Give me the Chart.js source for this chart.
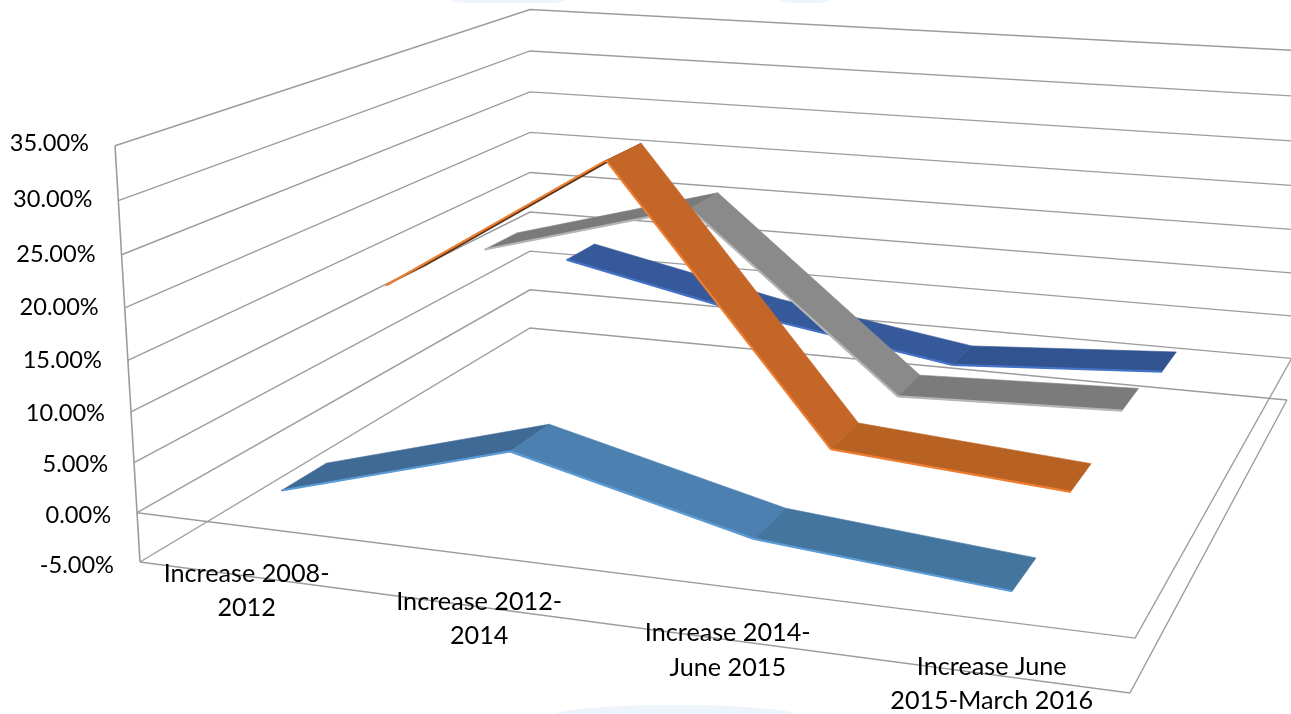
<!DOCTYPE html>
<html><head><meta charset="utf-8">
<style>
html,body{margin:0;padding:0;background:#fff;overflow:hidden}
#wrap{position:relative;width:1291px;height:714px}
canvas{position:absolute;left:0;top:0}
.w{position:absolute;background:#eef4fb}
</style>
<script src="https://cdn.jsdelivr.net/npm/chart.js@4"></script>
</head><body>
<div id="wrap">
<div class="w" style="left:432px;top:-30px;width:154px;height:33px;border-radius:0 0 70px 70px"></div>
<div class="w" style="left:760px;top:-30px;width:90px;height:33px;border-radius:0 0 40px 40px"></div>
<div class="w" style="left:550px;top:705px;width:250px;height:40px;border-radius:120px 120px 0 0/12px 12px 0 0"></div>
<canvas id="c" width="1291" height="714"></canvas>
</div>
<script>
// ---- data ----
const categories = [["Increase 2008-","2012"],["Increase 2012-","2014"],["Increase 2014-","June 2015"],["Increase June","2015-March 2016"]];
const valueTicks = [35,30,25,20,15,10,5,0,-5];
const series1 = [1.4, 7.9, 2.2, 0.2];
const series2 = [16.2, 30.6, 3.9, 2.2];
const series3 = [14.7, 21.0, 2.65, 3.5];
const series4 = [8.4, 3.6, 0.0, 1.5];

// ---- styling ----
const styles = [
  {values:series4, depth:0.875, half:0.047, edge:'#4472c4', seg:['#36599b','#36599b','#31538f']},
  {values:series3, depth:0.625, half:0.047, edge:'#b5b5b5', seg:['#7a7a7a','#8a8a8a','#7b7b7b']},
  {values:series2, depth:0.370, half:0.050, edge:'#ed7d31', seg:['#4f2c10','#c36627','#b76123']},
  {values:series1, depth:0.123, half:0.049, edge:'#5b9bd5', seg:['#3f6a96','#4b80b0','#44759f']}
];
const pctMin = -5, pctMax = 35;
const labelNudgeX=[-1,0,2,3], labelNudgeY=[-3,-5.5,-7,-8];

// perspective camera of the 3-D box (category u, depth v, value w, each 0..1)
function project(u,v,pct){
  const w=(pct-pctMin)/(pctMax-pctMin);
  const d=1-0.1196*u+0.3326*v-0.0602*w;
  return {x:(854.8*u+566.3*v-31.9*w+140)/d, y:(48.1*u-124.9*v-425*w+562)/d};
}
const catU=i=>(i+0.49)/categories.length;

const datasets=[];
function line(pts,color,width){
  datasets.push({data:pts,showLine:true,borderColor:color,borderWidth:width,pointRadius:0,fill:false,tension:0,order:-datasets.length});
}
function poly(pts,color){
  datasets.push({data:pts,showLine:false,polygonFill:color,pointRadius:0,fill:false,order:-datasets.length});
}
const GRID='#9c9c9c';
valueTicks.forEach(t=>{
  line([project(0,0,t),project(0,1,t),project(1,1,t)],GRID,1.4);
});
line([project(0,0,pctMax),project(0,0,pctMin)],GRID,1.6);
line([project(0,0,0),project(1,0,0),project(1,1,0)],GRID,1.4);
line([project(0,0,pctMin),project(1,0,pctMin),project(1,1,pctMin)],GRID,1.4);
styles.forEach(s=>{
  for(let i=0;i<s.values.length-1;i++){
    const a=s.values[i],b=s.values[i+1],u0=catU(i),u1=catU(i+1);
    const f0=project(u0,s.depth-s.half,a),f1=project(u1,s.depth-s.half,b);
    const b0=project(u0,s.depth+s.half,a),b1=project(u1,s.depth+s.half,b);
    poly([f0,f1,b1,b0],s.seg[i]);
    line([f0,f1],s.edge,2.2);
  }
});

const polygonPlugin={id:'polygonPlugin',
  beforeDatasetDraw(chart,args){
    const ds=chart.data.datasets[args.index];
    if(!ds.polygonFill) return;
    const ctx=chart.ctx,p=args.meta.data;
    ctx.save();ctx.beginPath();
    p.forEach((e,i)=>i?ctx.lineTo(e.x,e.y):ctx.moveTo(e.x,e.y));
    ctx.closePath();ctx.fillStyle=ds.polygonFill;ctx.fill();
    ctx.strokeStyle=ds.polygonFill;ctx.lineWidth=0.6;ctx.stroke();
    ctx.restore();
  },
  afterDraw(chart){
    const ctx=chart.ctx,sx=chart.scales.x,sy=chart.scales.y;
    ctx.save();ctx.fillStyle='#000';ctx.font='23.6px Lato';ctx.textBaseline='middle';
    ctx.textAlign='right';
    valueTicks.forEach(t=>{
      const p=project(0,0,t);
      const dy=-2+5*(35-t)/40;
      ctx.fillText(t.toFixed(2)+'%',sx.getPixelForValue(p.x)-26,sy.getPixelForValue(p.y)+dy);
    });
    ctx.font='25.2px Lato';
    ctx.textAlign='center';
    categories.forEach((lines,i)=>{
      const p=project((i+0.5)/categories.length,0,pctMin);
      lines.forEach((txt,j)=>ctx.fillText(txt,sx.getPixelForValue(p.x)-3+labelNudgeX[i],sy.getPixelForValue(p.y)+labelNudgeY[i]+j*34.5));
    });
    ctx.restore();
  }
};

new Chart(document.getElementById('c'),{
  type:'scatter',
  data:{datasets},
  plugins:[polygonPlugin],
  options:{
    responsive:false,animation:false,
    layout:{padding:0},
    plugins:{legend:{display:false},tooltip:{enabled:false},title:{display:false}},
    scales:{
      x:{type:'linear',min:0,max:1291,display:false},
      y:{type:'linear',min:0,max:714,reverse:true,display:false}
    }
  }
});
</script>
</body></html>
